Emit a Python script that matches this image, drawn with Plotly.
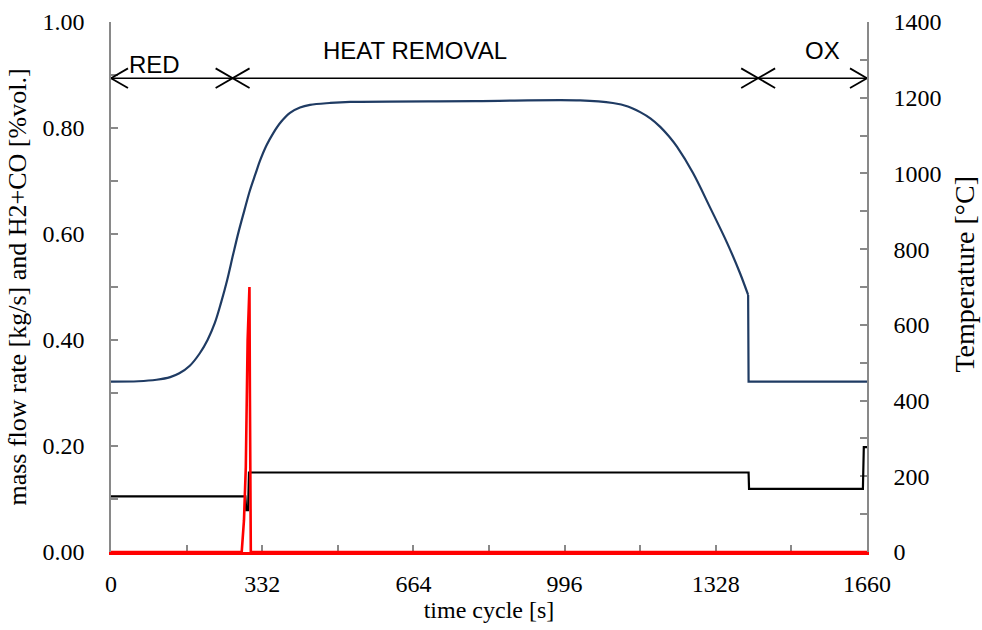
import plotly.graph_objects as go

# ---- data ----
t_temp = [0, 60, 100, 130, 150, 173, 195, 212, 228, 242, 255, 268, 280, 293, 305, 317,
          327, 341, 356, 374, 393, 415, 437, 480, 525, 800, 1030, 1102, 1135, 1162,
          1185, 1206, 1225, 1243, 1278, 1315, 1353, 1381, 1399]
temp = [450, 451, 455, 462, 472, 492, 525, 560, 605, 660, 718, 785, 845, 903, 955, 998,
        1033, 1073, 1106, 1137, 1160, 1174, 1181, 1186, 1189, 1191, 1193, 1186, 1177, 1162,
        1145, 1123, 1098, 1070, 1001, 911, 816, 737, 679]
t_temp_ox = [1399, 1400, 1660]
temp_ox = [679, 450, 450]

t_mass = [0, 295, 297, 301, 303, 1400, 1401, 1651, 1653, 1660]
mass = [0.105, 0.105, 0.079, 0.079, 0.150, 0.150, 0.119, 0.119, 0.198, 0.198]

t_gas = [0, 287, 292, 296, 300, 303, 304, 305, 306, 307, 1660]
gas = [0, 0, 0.06, 0.16, 0.40, 0.50, 0.50, 0.30, 0.05, 0, 0]

x_ticks = [0, 332, 664, 996, 1328, 1660]
x_minor = [166, 498, 830, 1162, 1494]
phase_names = ["RED", "HEAT REMOVAL", "OX"]
phase_bounds = [0, 267, 1421, 1660]
phase_label_x = [96, 668, 1562]
phase_label_y = [0.919, 0.947, 0.947]
arrow_y = 0.894

# ---- figure ----
AX = "#898989"
SERIF = "Liberation Serif, Times New Roman, serif"
SANS = "Liberation Sans, Arial, sans-serif"

fig = go.Figure()
fig.add_trace(go.Scatter(x=t_temp, y=temp, yaxis="y2", mode="lines",
                         line=dict(color="#1F3B63", width=2.2, shape="spline", smoothing=1.0),
                         showlegend=False, hoverinfo="skip"))
fig.add_trace(go.Scatter(x=t_temp_ox, y=temp_ox, yaxis="y2", mode="lines",
                         line=dict(color="#1F3B63", width=2.2),
                         showlegend=False, hoverinfo="skip"))
fig.add_trace(go.Scatter(x=t_mass, y=mass, mode="lines",
                         line=dict(color="#000000", width=2.2),
                         showlegend=False, hoverinfo="skip"))
fig.add_trace(go.Scatter(x=t_gas, y=gas, mode="lines",
                         line=dict(color="#FF0000", width=2.6),
                         showlegend=False, hoverinfo="skip"))

# phase double arrows: a horizontal line, with chevrons made of two tilted strokes
fig.add_trace(go.Scatter(x=[phase_bounds[0], phase_bounds[-1]], y=[arrow_y, arrow_y],
                         mode="lines", line=dict(color="#000000", width=1.6),
                         showlegend=False, hoverinfo="skip"))
for ang in (30, -30):
    fig.add_trace(go.Scatter(x=phase_bounds, y=[arrow_y] * len(phase_bounds), mode="markers",
                             marker=dict(symbol="line-ew", size=28, angle=ang,
                                         line=dict(color="#000000", width=1.8)),
                             showlegend=False, hoverinfo="skip"))

annotations = []
for name, lx, ly in zip(phase_names, phase_label_x, phase_label_y):
    annotations.append(dict(x=lx, y=ly, xref="x", yref="y", text=name, showarrow=False,
                            font=dict(family=SANS, size=24, color="#000000"),
                            xanchor="center", yanchor="middle"))
annotations.append(dict(x=1.1495, y=0.5245, xref="paper", yref="paper",
                        text="Temperature [°C]", textangle=-90, showarrow=False,
                        font=dict(family=SERIF, size=28, color="#000000"),
                        xanchor="right", yanchor="middle", borderpad=0))

fig.update_layout(
    width=982, height=630,
    margin=dict(l=111, r=115, t=22, b=78),
    paper_bgcolor="white", plot_bgcolor="white",
    font=dict(family=SERIF, size=24, color="#000000"),
    annotations=annotations,
    xaxis=dict(range=[0, 1660], tickvals=x_ticks, ticktext=[str(v) for v in x_ticks],
               ticks="inside", ticklen=7, tickwidth=1.5, tickcolor=AX,
               minor=dict(tickvals=x_minor, ticks="inside", ticklen=7, tickwidth=1.5, tickcolor=AX),
               showline=True, linecolor="#FF0000", linewidth=2.6, showgrid=False, zeroline=False,
               ticklabelstandoff=8, automargin=False, layer="below traces",
               title=dict(text="time cycle [s]", font=dict(family=SERIF, size=24), standoff=0)),
    yaxis=dict(range=[0, 1], tickvals=[0, 0.2, 0.4, 0.6, 0.8, 1.0], tickformat=".2f",
               ticks="inside", ticklen=7, tickwidth=1.5, tickcolor=AX,
               minor=dict(dtick=0.1, ticks="inside", ticklen=7, tickwidth=1.5, tickcolor=AX),
               showline=True, linecolor=AX, linewidth=1.5, showgrid=False, zeroline=False,
               ticklabelstandoff=20, automargin=False, layer="below traces",
               title=dict(text="mass flow rate [kg/s] and H2+CO [%vol.]",
                          font=dict(family=SERIF, size=26), standoff=8)),
    yaxis2=dict(range=[0, 1400], tickvals=[0, 200, 400, 600, 800, 1000, 1200, 1400],
                overlaying="y", side="right",
                ticks="inside", ticklen=7, tickwidth=1.5, tickcolor=AX,
                minor=dict(dtick=100, ticks="inside", ticklen=7, tickwidth=1.5, tickcolor=AX),
                showline=True, linecolor=AX, linewidth=1.5, showgrid=False, zeroline=False,
                ticklabelstandoff=20, automargin=False, layer="below traces"),
)

fig.write_html("out.html")
